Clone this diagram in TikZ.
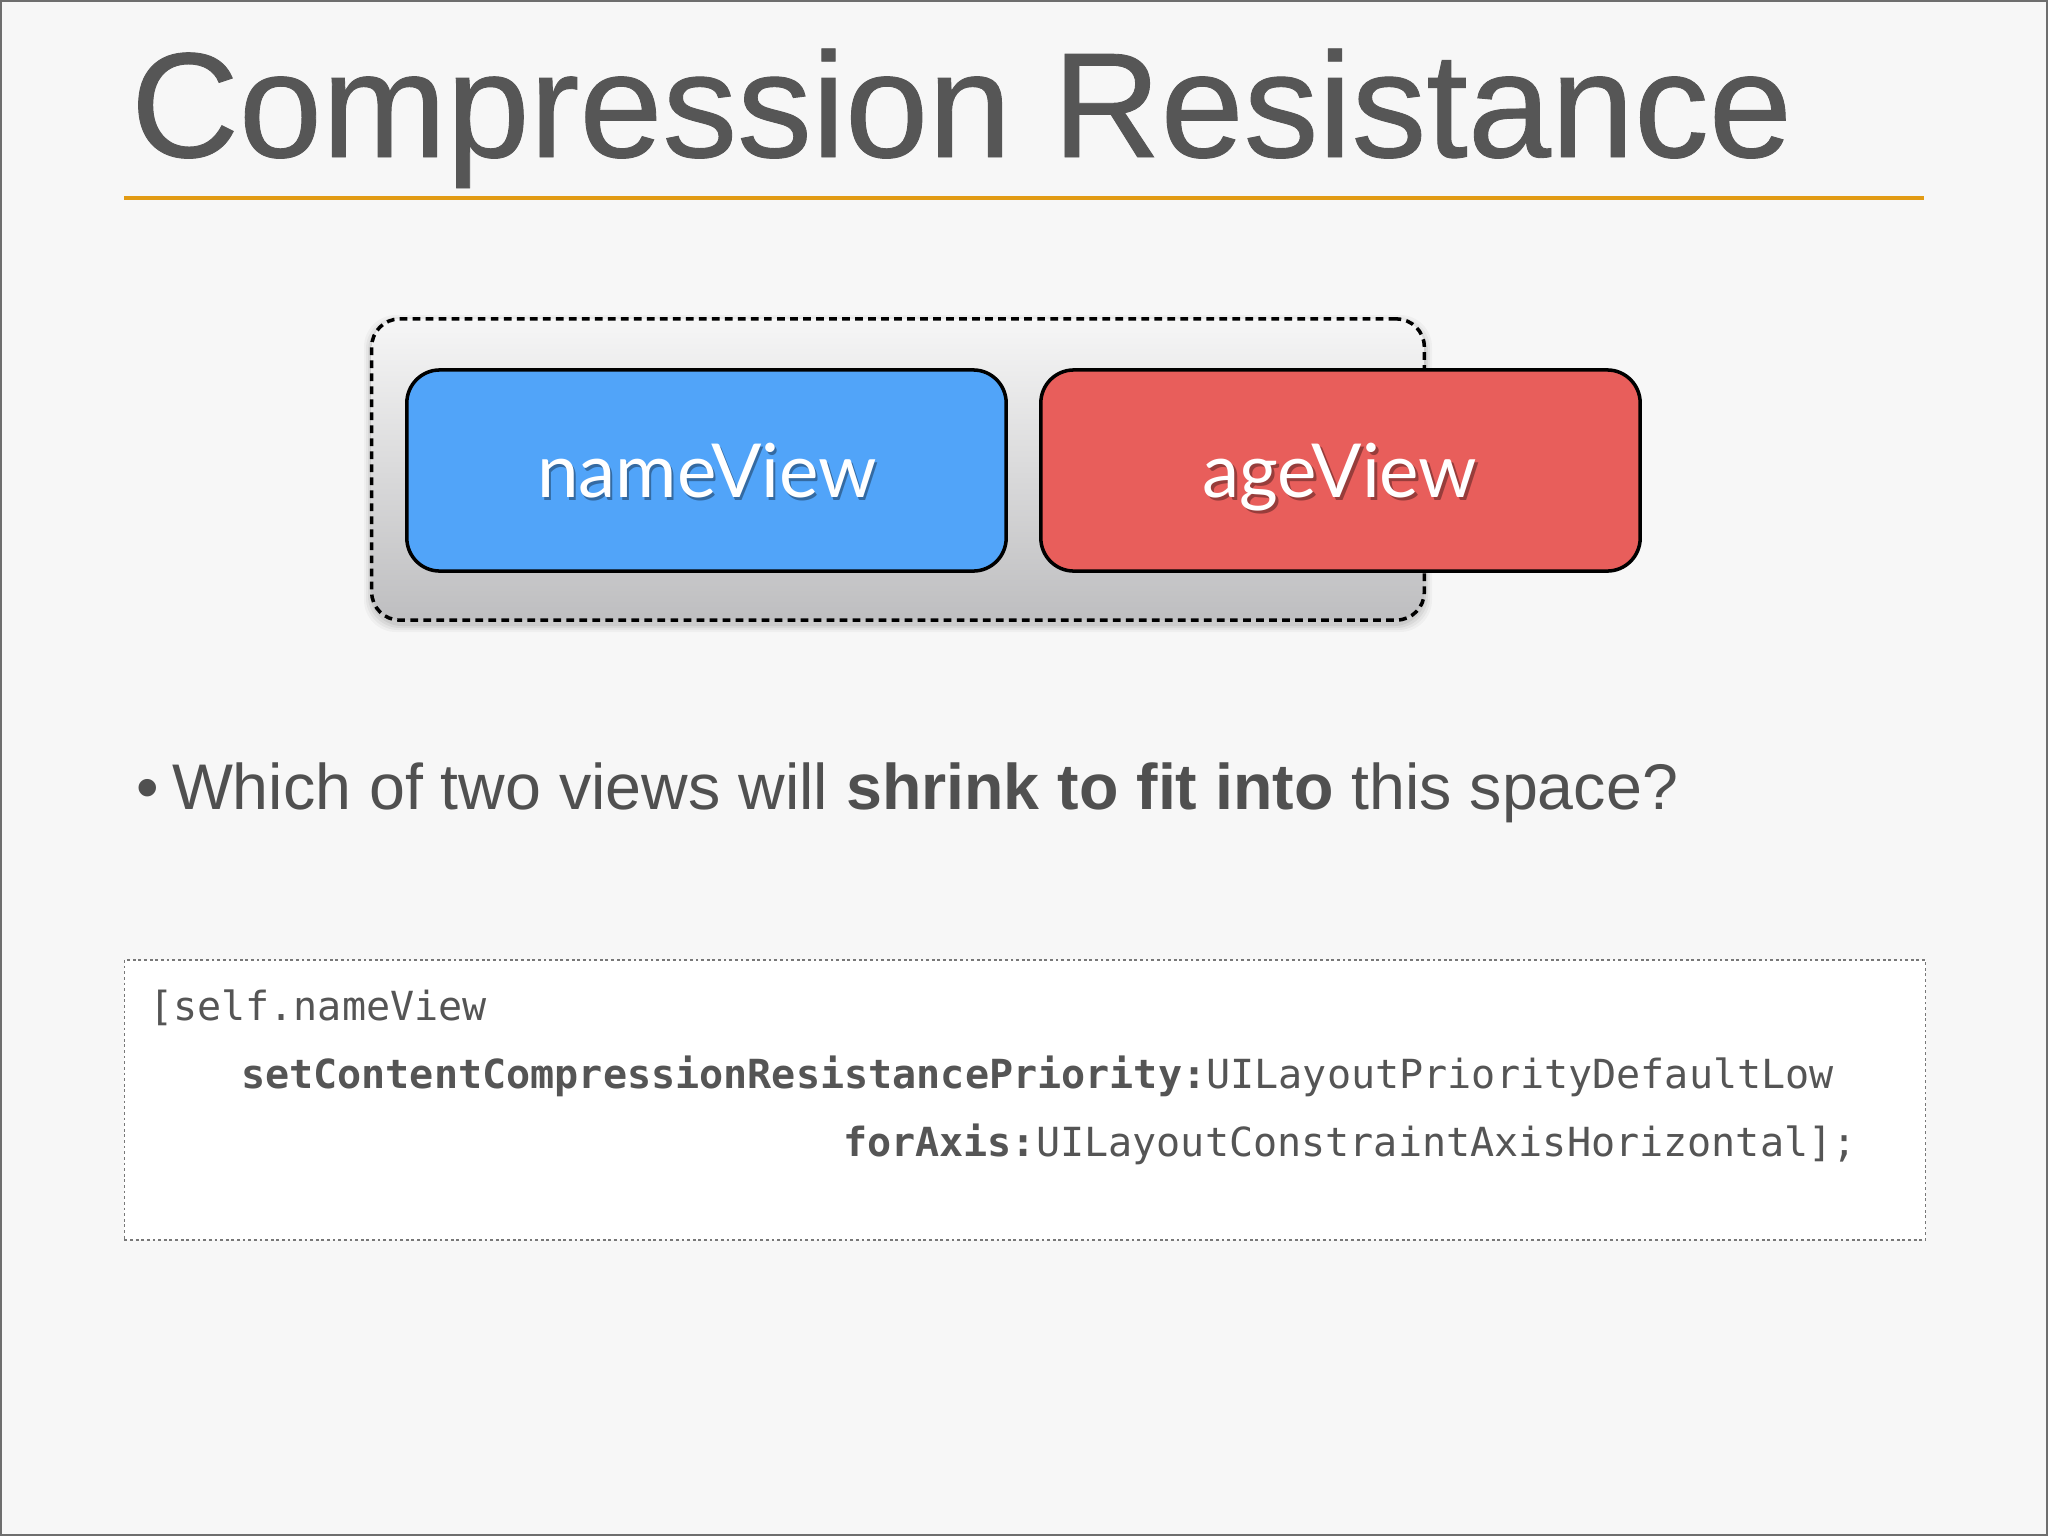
\documentclass[tikz,border=0pt]{standalone}
\usepackage{fontspec}
\setmainfont{Liberation Sans}
\newfontfamily\titlefont[FakeBold=0.6]{Liberation Sans}
\newfontfamily\boxfont{Lato}
\newfontfamily\codefont{DejaVu Sans Mono}
\definecolor{bg}{RGB}{247,247,247}
\definecolor{framegray}{RGB}{110,110,110}
\definecolor{titlegray}{RGB}{86,86,86}
\definecolor{textgray}{RGB}{80,80,80}
\definecolor{codegray}{RGB}{85,85,85}
\definecolor{rulecol}{RGB}{226,155,20}
\definecolor{nameblue}{RGB}{81,164,249}
\definecolor{agered}{RGB}{232,94,91}
\definecolor{contop}{RGB}{246,246,246}
\definecolor{conbot}{RGB}{190,190,192}
\definecolor{codeborder}{RGB}{120,120,120}
\tikzset{
  plain/.style={anchor=base west, inner sep=0pt, outer sep=0pt},
  viewbox/.style={draw=black, line width=1pt, rounded corners=0.33cm,
    minimum width=5.99cm, minimum height=2.01cm, inner sep=0pt},
  boxtext/.style={anchor=base, inner sep=0pt, text=white,
    font=\boxfont\fontsize{21.2}{24}\selectfont},
  boxshadow/.style={anchor=base, inner sep=0pt, text=black, opacity=0.35,
    font=\boxfont\fontsize{21.2}{24}\selectfont},
  container/.style={draw=black, line width=1pt, dash pattern=on 2.2pt off 1.5pt,
    rounded corners=0.28cm, top color=contop, bottom color=conbot,
    minimum width=10.52cm, minimum height=3.01cm, inner sep=0pt},
  codebox/.style={fill=white, draw=codeborder, line width=0.45pt, dash pattern=on 0.8pt off 0.8pt,
    minimum width=18cm, minimum height=2.8cm, inner sep=0pt},
  codetext/.style={plain, text=codegray, font=\codefont\fontsize{11.4}{14}\selectfont},
}
\begin{document}
\begin{tikzpicture}[x=0.01cm, y=-0.01cm]
\useasboundingbox (0,0) rectangle (2048,1536);
\fill[bg] (0,0) rectangle (2048,1536);
\draw[framegray, line width=0.6pt] (1,1) rectangle (2047,1535);

% title
\node[plain, text=titlegray, font=\titlefont\fontsize{42.5}{50}\selectfont] (title) at (131,157) {Compression Resistance};
\coordinate (ruleL) at (124,198);
\coordinate (ruleR) at (1924,198);
\draw[rulecol, line width=1.1pt] (ruleL) -- (ruleR);

% container shadow
\foreach \i/\o in {8/0.03,6/0.04,4/0.05,2/0.06} {
  \fill[black, opacity=\o, rounded corners=0.32cm] (372-\i,319+4-\i) rectangle (1424+\i,620+4+\i);
}
\node[container] (cont) at (898,469.5) {};

% views
\node[viewbox, fill=nameblue] (name) at (706.5,470.5) {};
\node[viewbox, fill=agered] (age) at (1340.5,470.5) {};
\node[boxshadow] (nameshadow) at (709,500) {nameView};
\node[boxtext] (nametext) at (707,497) {nameView};
\node[boxshadow] (ageshadow) at (1343,500) {ageView};
\node[boxtext] (agetext) at (1340,497) {ageView};

% bullet
\node[plain, text=textgray, font=\fontsize{18.3}{22}\selectfont] (bullet) at (136,809) {•};
\node[plain, text=textgray, font=\fontsize{18.35}{22}\selectfont] (question) at (172,809) {Which of two views will \textbf{shrink to fit into} this space?};

% code
\node[codebox] (code) at (1025,1100) {};
\node[codetext] (c1) at (149,1020) {[self.nameView};
\node[codetext] (c2) at (241,1088) {\textbf{setContentCompressionResistancePriority:}UILayoutPriorityDefaultLow};
\node[codetext] (c3) at (843,1156) {\textbf{forAxis:}UILayoutConstraintAxisHorizontal];};
\end{tikzpicture}
\end{document}
